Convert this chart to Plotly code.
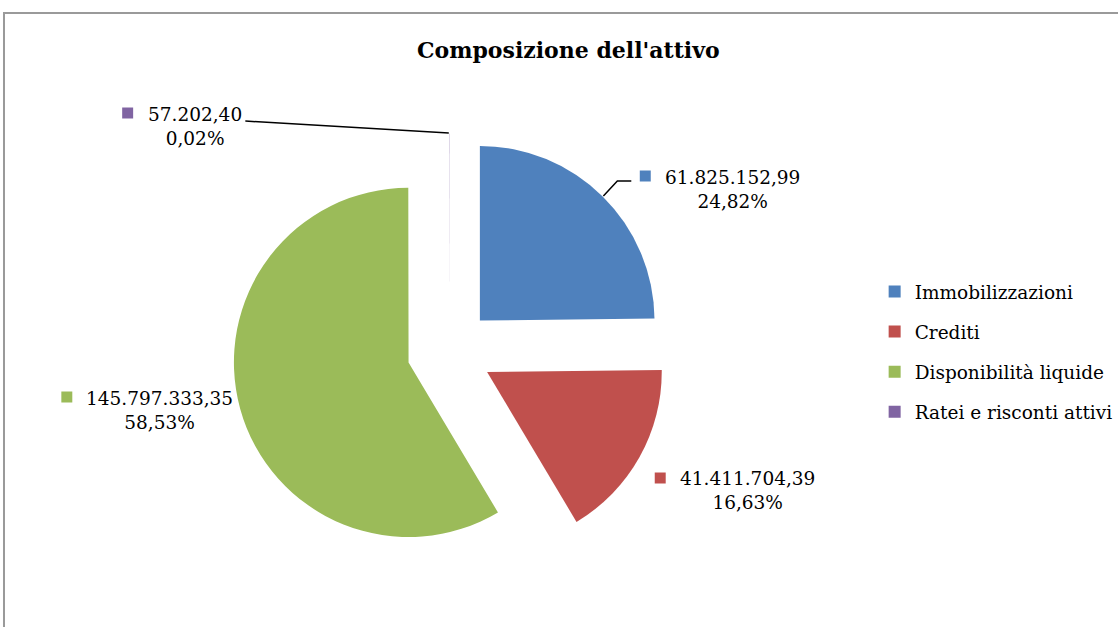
import plotly.graph_objects as go

# Chart data
categories = ['Immobilizzazioni', 'Crediti', 'Disponibilità liquide', 'Ratei e risconti attivi']
values = [61825152.99, 41411704.39, 145797333.35, 57202.40]
colors = ['#4F81BD', '#C0504D', '#9BBB59', '#8064A2']

W, H = 1118, 627
FONT = 'DejaVu Serif'


def px(x):
    return x / W


def py(y):
    return 1 - y / H


def it_num(v):
    # Italian formatting: 1.234.567,89
    return f'{v:,.2f}'.replace(',', 'X').replace('.', ',').replace('X', '.')


def it_pct(p):
    return f'{p:.2f}'.replace('.', ',') + '%'


total = sum(values)
pcts = [v / total * 100 for v in values]

fig = go.Figure()

# pie centre (451, 351), radius ~175 px, pulled slices
half = 218
fig.add_trace(go.Pie(
    labels=categories, values=values, sort=False, direction='clockwise', rotation=0,
    pull=[0.245] * len(values), marker=dict(colors=colors, line=dict(width=0)),
    textinfo='none', showlegend=False,
    domain=dict(x=[px(451 - half), px(451 + half)], y=[py(351 + half), py(351 - half)]),
))

# legend entries (separate groups so the spacing can be set)
for i, (cat, col) in enumerate(zip(categories, colors)):
    fig.add_trace(go.Scatter(
        x=[None], y=[None], mode='markers', name=cat, legendgroup=f'g{i}',
        marker=dict(symbol='square', size=12, color=col),
    ))

# data labels: text block centre, legend-key square centre
label_pos = [(734, 190, 647, 176), (750, 490, 662, 478), (160, 410, 67, 397), (196, 127, 128, 113)]
for v, p, col, (tx, ty, sx, sy) in zip(values, pcts, colors, label_pos):
    fig.add_annotation(
        x=px(tx), y=py(ty), xref='paper', yref='paper', xanchor='center', yanchor='middle',
        text=f'{it_num(v)}<br>{it_pct(p)}',
        showarrow=False, align='center', font=dict(family=FONT, size=18.5, color='#000'),
    )
    fig.add_shape(type='rect', xref='paper', yref='paper',
                  x0=px(sx - 5.5), x1=px(sx + 5.5), y0=py(sy + 5.5), y1=py(sy - 5.5),
                  fillcolor=col, line=dict(width=0))

# leader lines
fig.add_shape(type='path', xref='paper', yref='paper',
              path=f'M {px(246)},{py(121)} L {px(450)},{py(133)}',
              line=dict(color='#000', width=1.5))
fig.add_shape(type='path', xref='paper', yref='paper',
              path=f'M {px(605)},{py(196)} L {px(619)},{py(181)} L {px(633)},{py(181)}',
              line=dict(color='#000', width=1.5))

# chart area border (cropped at right and bottom)
fig.add_shape(type='rect', xref='paper', yref='paper',
              x0=px(4), x1=px(W + 20), y0=py(H + 20), y1=py(13),
              line=dict(color='#9a9a9a', width=2), fillcolor='rgba(0,0,0,0)')

fig.add_annotation(
    x=px(570), y=py(50), xref='paper', yref='paper', xanchor='center', yanchor='middle',
    text="<b>Composizione dell'attivo</b>", showarrow=False,
    font=dict(family=FONT, size=22, color='#000'),
)

fig.update_layout(
    width=W, height=H, margin=dict(l=0, r=0, t=0, b=0),
    paper_bgcolor='white', plot_bgcolor='white',
    xaxis=dict(visible=False), yaxis=dict(visible=False),
    legend=dict(x=px(877), y=py(273), xanchor='left', yanchor='top',
                font=dict(family=FONT, size=18.5, color='#000'), tracegroupgap=13,
                itemclick=False),
)

fig.write_html('out.html', config={'displayModeBar': False},
               post_script="document.body.style.margin = '0';")
